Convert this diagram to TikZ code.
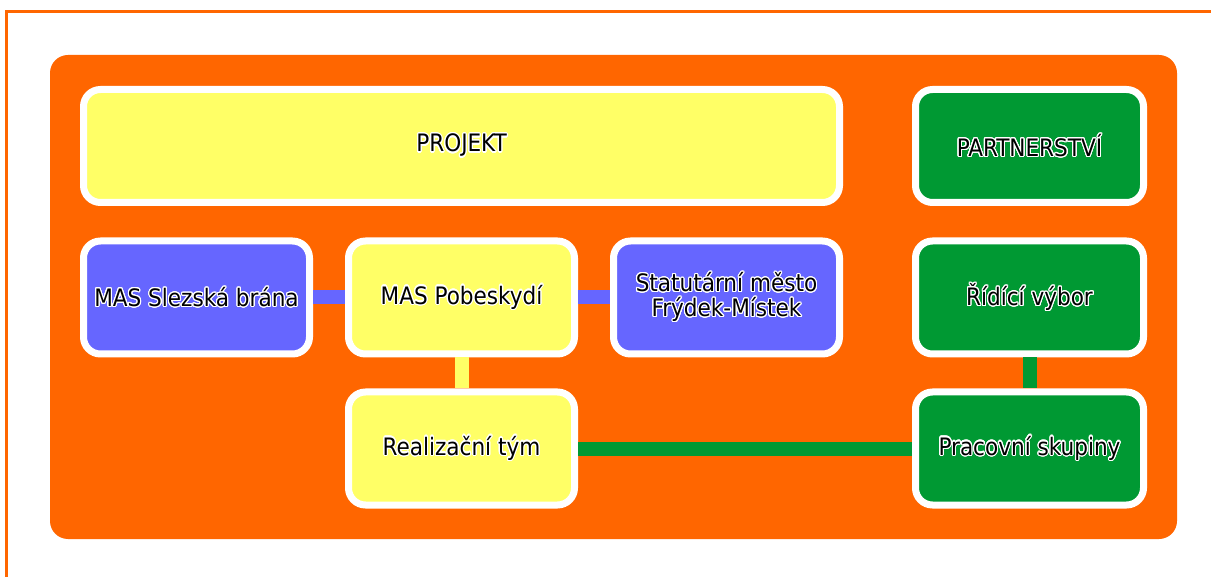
\documentclass[tikz,border=0pt]{standalone}
\usepackage{fontspec}
\setmainfont{DejaVu Sans Condensed}
\usepackage{contour}
\contourlength{1.1pt}
\contournumber{24}
\newcommand{\ctx}[1]{\contour{white}{#1}}
\definecolor{orng}{HTML}{FF6600}
\definecolor{yel}{HTML}{FFFF66}
\definecolor{blu}{HTML}{6666FF}
\definecolor{grn}{HTML}{009933}
\begin{document}
\begin{tikzpicture}[x=1pt,y=-1pt,
  box/.style={draw=white,line width=7pt,rounded corners=17pt,inner sep=0pt,
    minimum width=226pt,minimum height=113pt,align=center,
    font=\fontsize{24}{28}\selectfont,text=black},
  yb/.style={box,fill=yel},
  bb/.style={box,fill=blu},
  gb/.style={box,fill=grn},
  link/.style={line width=14pt}]
\useasboundingbox (0,0) rectangle (1211,577);
\fill[white] (0,0) rectangle (1211,577);
\draw[orng,line width=3.5pt] (6.5,11.5) rectangle (1240,600);
\fill[orng,rounded corners=18pt] (50,55) rectangle (1177,539);

\node[yb,minimum width=756pt] (projekt) at (461.5,146) {\ctx{PROJEKT}};
\node[gb,minimum width=228pt] (partner) at (1029.5,146) {\ctx{PARTNERSTVÍ}};
\node[bb] (slezska) at (196.5,297.5) {\ctx{MAS Slezská brána}};
\node[yb] (pobesk) at (461.5,297.5) {\ctx{MAS Pobeskydí}};
\node[bb] (statut) at (726.5,297.5) {\ctx{Statutární město}\\[-3pt]\ctx{Frýdek-Místek}};
\node[gb,minimum width=228pt] (ridici) at (1029.5,297.5) {\ctx{Řídící výbor}};
\node[yb] (realiz) at (461.5,448.5) {\ctx{Realizační tým}};
\node[gb,minimum width=228pt] (pracov) at (1029.5,448.5) {\ctx{Pracovní skupiny}};

\draw[link,blu] (slezska.east) -- (pobesk.west);
\draw[link,blu] (pobesk.east) -- (statut.west);
\draw[link,yel] (pobesk.south) -- (realiz.north);
\draw[link,grn] (ridici.south) -- (pracov.north);
\draw[link,grn] (realiz.east) -- (pracov.west);
\end{tikzpicture}
\end{document}
